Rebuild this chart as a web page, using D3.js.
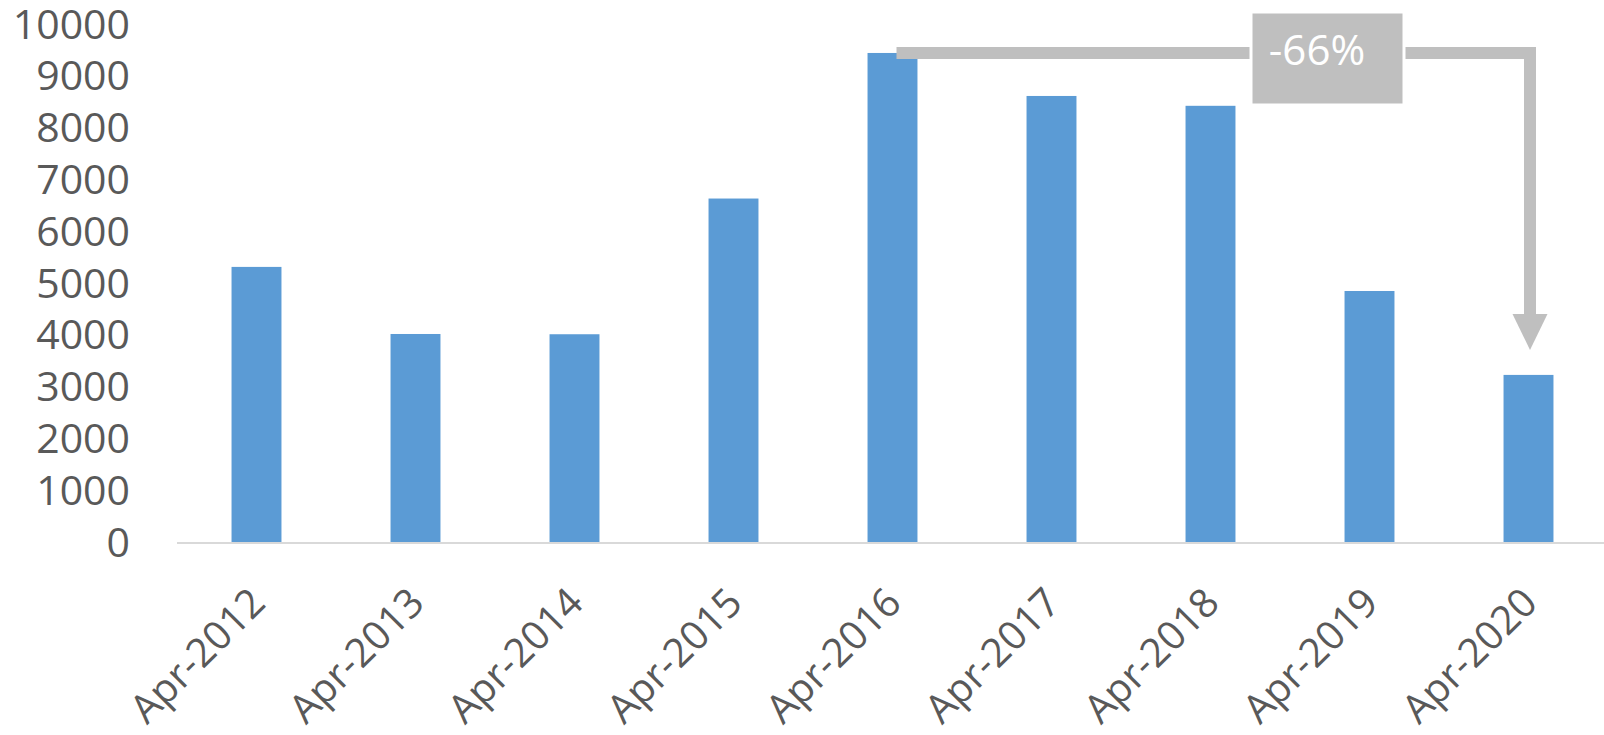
<!DOCTYPE html>
<html>
<head>
<meta charset="utf-8">
<script src="https://cdn.jsdelivr.net/npm/d3@7"></script>
<style>
  body { margin: 0; background: #fff; }
  text { font-family: "Open Sans", sans-serif; }
</style>
</head>
<body>
<script>
// data
const categories = ["Apr-2012", "Apr-2013", "Apr-2014", "Apr-2015", "Apr-2016",
  "Apr-2017", "Apr-2018", "Apr-2019", "Apr-2020"];
const values = [5330, 4035, 4030, 6650, 9460, 8630, 8440, 4865, 3245];
const yTicks = [0, 1000, 2000, 3000, 4000, 5000, 6000, 7000, 8000, 9000, 10000];
const changeLabel = "-66%";
const fromCat = "Apr-2016";
const toCat = "Apr-2020";

const width = 1604;
const height = 735;

const svg = d3.select("body").append("svg")
  .attr("width", width)
  .attr("height", height);

// scales
const x = d3.scaleBand()
  .domain(categories)
  .range([177, 1608])
  .paddingInner(0.686)
  .paddingOuter(0.343);

const y = d3.scaleLinear()
  .domain([0, 10000])
  .range([543, 25]);

// y axis labels only, no thousands separator
const yAxis = svg.append("g")
  .attr("transform", "translate(130,0)")
  .call(d3.axisLeft(y).tickValues(yTicks).tickFormat(d3.format("d")).tickSize(0).tickPadding(0));
yAxis.select(".domain").remove();
yAxis.selectAll("text")
  .attr("fill", "#595959")
  .style("font-size", "41px");

// bars
svg.selectAll(".bar")
  .data(values)
  .join("rect")
  .attr("class", "bar")
  .attr("x", (d, i) => x(categories[i]))
  .attr("y", (d) => y(d))
  .attr("width", x.bandwidth())
  .attr("height", (d) => y(0) - y(d))
  .attr("fill", "#5b9bd5");

// baseline
svg.append("line")
  .attr("x1", 177).attr("x2", width)
  .attr("y1", y(0)).attr("y2", y(0))
  .attr("stroke", "#d9d9d9")
  .attr("stroke-width", 2);

// x labels, rotated
svg.selectAll(".xlab")
  .data(categories)
  .join("text")
  .attr("class", "xlab")
  .attr("text-anchor", "end")
  .attr("transform", (d) => `translate(${x(d) + x.bandwidth() / 2 + 11},${y(0) + 62}) rotate(-45)`)
  .attr("fill", "#595959")
  .style("font-size", "40px")
  .text((d) => d);

// change annotation: elbow arrow from the peak to the last bar
const grey = "#bfbfbf";
const x0 = x(fromCat) + x.bandwidth() / 2 + 4;
const x1 = x(toCat) + x.bandwidth() / 2 + 1.5;
const lineY = 53;
const tipY = y(values[categories.indexOf(toCat)]) - 25;
const headH = 36;

svg.append("path")
  .attr("d", `M${x0},${lineY} H${x1} V${tipY - headH + 2}`)
  .attr("fill", "none")
  .attr("stroke", grey)
  .attr("stroke-width", 12)
  .attr("stroke-linejoin", "miter");

svg.append("path")
  .attr("d", `M${x1 - 17.5},${tipY - headH} L${x1 + 17.5},${tipY - headH} L${x1},${tipY} Z`)
  .attr("fill", grey);

// label box
svg.append("rect")
  .attr("x", 1251).attr("y", 12)
  .attr("width", 153).attr("height", 93)
  .attr("fill", grey)
  .attr("stroke", "#fff")
  .attr("stroke-width", 3);

svg.append("text")
  .attr("x", 1317)
  .attr("y", 65)
  .attr("text-anchor", "middle")
  .attr("fill", "#fff")
  .style("font-size", "42px")
  .text(changeLabel);
</script>
</body>
</html>
